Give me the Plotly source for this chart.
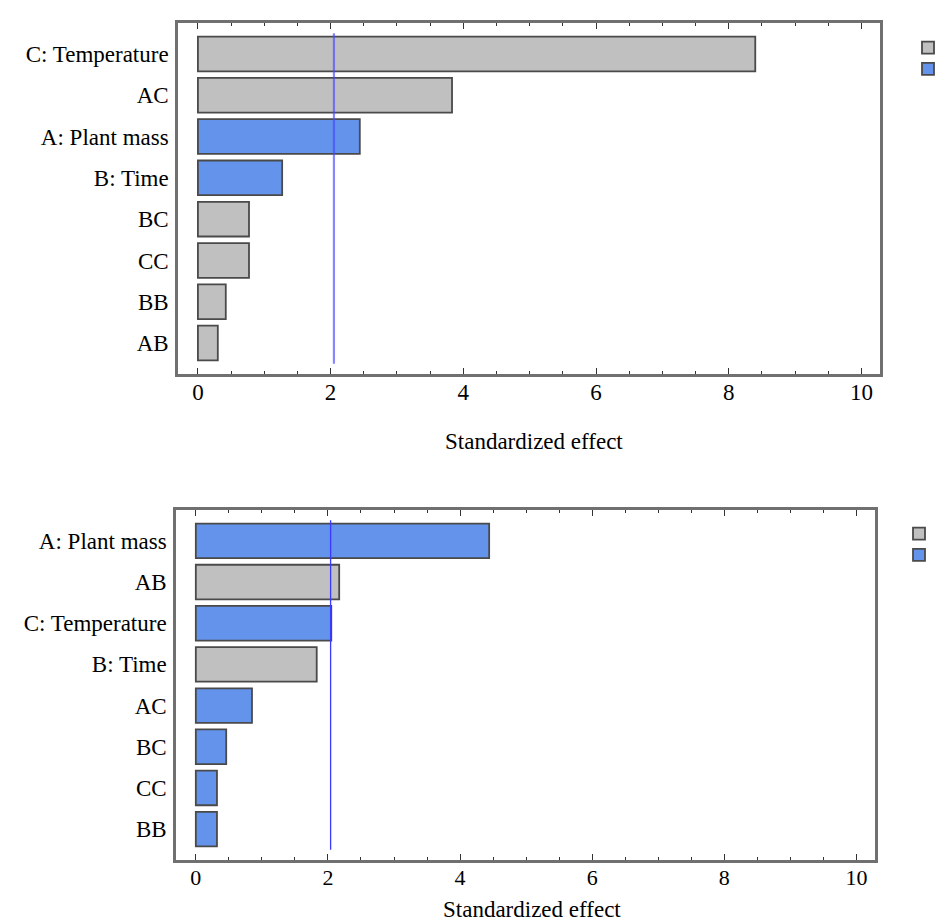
import plotly.graph_objects as go

# ---------------- data ----------------
categories_top = ["C: Temperature", "AC", "A: Plant mass", "B: Time", "BC", "CC", "BB", "AB"]
effects_top = [8.40, 3.83, 2.44, 1.27, 0.77, 0.77, 0.42, 0.30]
signs_top = ["+", "+", "-", "-", "+", "+", "+", "+"]
critical_top = 2.05

categories_bottom = ["A: Plant mass", "AB", "C: Temperature", "B: Time", "AC", "BC", "CC", "BB"]
effects_bottom = [4.44, 2.17, 2.05, 1.83, 0.85, 0.46, 0.32, 0.32]
signs_bottom = ["-", "+", "-", "+", "-", "-", "-", "-"]
critical_bottom = 2.04

x_tick_values = [0, 2, 4, 6, 8, 10]
x_axis_title = "Standardized effect"
legend_labels = {"+": "+", "-": "-"}

# ---------------- style ----------------
W, H = 947, 923
FONT = "Liberation Serif"
sign_colors = {"+": "#c0c0c0", "-": "#6393ea"}
edge_color = "#4a4a4a"
frame_color = "#707070"

fig = go.Figure()


def add_panel(vals, signs, xa, ya, legend_name):
    for s in ["+", "-"]:
        idx = [i for i, sg in enumerate(signs) if sg == s]
        fig.add_trace(go.Bar(
            x=[vals[i] for i in idx],
            y=[i for i in idx],
            orientation="h",
            width=0.84,
            name=legend_labels[s],
            marker=dict(color=sign_colors[s], line=dict(color=edge_color, width=1.8)),
            xaxis=xa, yaxis=ya,
            legend=legend_name,
            showlegend=True,
        ))


add_panel(effects_top, signs_top, "x", "y", "legend")
add_panel(effects_bottom, signs_bottom, "x2", "y2", "legend2")


def xaxis_cfg(domain, anchor, fsize):
    return dict(
        domain=domain, anchor=anchor, range=[-0.3, 10.28],
        tickmode="array", tickvals=x_tick_values,
        ticks="inside", ticklen=6, tickwidth=1.4, tickcolor="#333",
        minor=dict(dtick=0.5, tick0=0, ticks="inside", ticklen=3, tickcolor="#333", tickwidth=1.4),
        showline=True, linecolor=frame_color, linewidth=2.5, mirror="ticks",
        showgrid=False, zeroline=False, ticklabelstandoff=-4,
        tickfont=dict(family=FONT, size=fsize, color="black"),
        automargin=False, fixedrange=True,
    )


def yaxis_cfg(domain, anchor, cats):
    return dict(
        domain=domain, anchor=anchor, range=[7.75, -0.75],
        tickmode="array", tickvals=list(range(len(cats))), ticktext=cats,
        ticks="", showline=True, linecolor=frame_color, linewidth=2.5, mirror=True,
        showgrid=False, zeroline=False, ticklabelstandoff=2,
        tickfont=dict(family=FONT, size=23, color="black"),
        automargin=False, fixedrange=True,
    )


top_x = [170 / W, 872 / W]
top_y = [1 - 366 / H, 1 - 15 / H]
bot_x = [168 / W, 867 / W]
bot_y = [1 - 852 / H, 1 - 502 / H]

fig.update_layout(
    width=W, height=H,
    margin=dict(l=0, r=0, t=0, b=0, autoexpand=False),
    paper_bgcolor="white", plot_bgcolor="white",
    barmode="overlay",
    xaxis=xaxis_cfg(top_x, "y", 23),
    yaxis=yaxis_cfg(top_y, "x", categories_top),
    xaxis2=xaxis_cfg(bot_x, "y2", 22),
    yaxis2=yaxis_cfg(bot_y, "x2", categories_bottom),
    legend=dict(x=900 / W, y=1 - 24 / H, xanchor="left", yanchor="top",
                bgcolor="rgba(0,0,0,0)", font=dict(family=FONT, size=14, color="#b07030"),
                itemwidth=30, tracegroupgap=0),
    legend2=dict(x=891 / W, y=1 - 510 / H, xanchor="left", yanchor="top",
                 bgcolor="rgba(0,0,0,0)", font=dict(family=FONT, size=14, color="#b07030"),
                 itemwidth=30, tracegroupgap=0),
    font=dict(family=FONT, color="black"),
)

# critical value reference lines
fig.add_shape(type="line", xref="x", yref="y", x0=critical_top, x1=critical_top,
              y0=-0.5, y1=7.5, line=dict(color="rgba(70,70,255,0.65)", width=2.2), layer="above")
fig.add_shape(type="line", xref="x2", yref="y2", x0=critical_bottom, x1=critical_bottom,
              y0=-0.5, y1=7.5, line=dict(color="#3a3aff", width=1.3), layer="above")

# axis titles
fig.add_annotation(text=x_axis_title, xref="paper", yref="paper",
                   x=526 / W, y=1 - 433 / H, showarrow=False,
                   font=dict(family=FONT, size=23, color="black"))
fig.add_annotation(text=x_axis_title, xref="paper", yref="paper",
                   x=524 / W, y=1 - 916 / H, showarrow=False,
                   font=dict(family=FONT, size=23, color="black"))

fig.write_html("out.html")
